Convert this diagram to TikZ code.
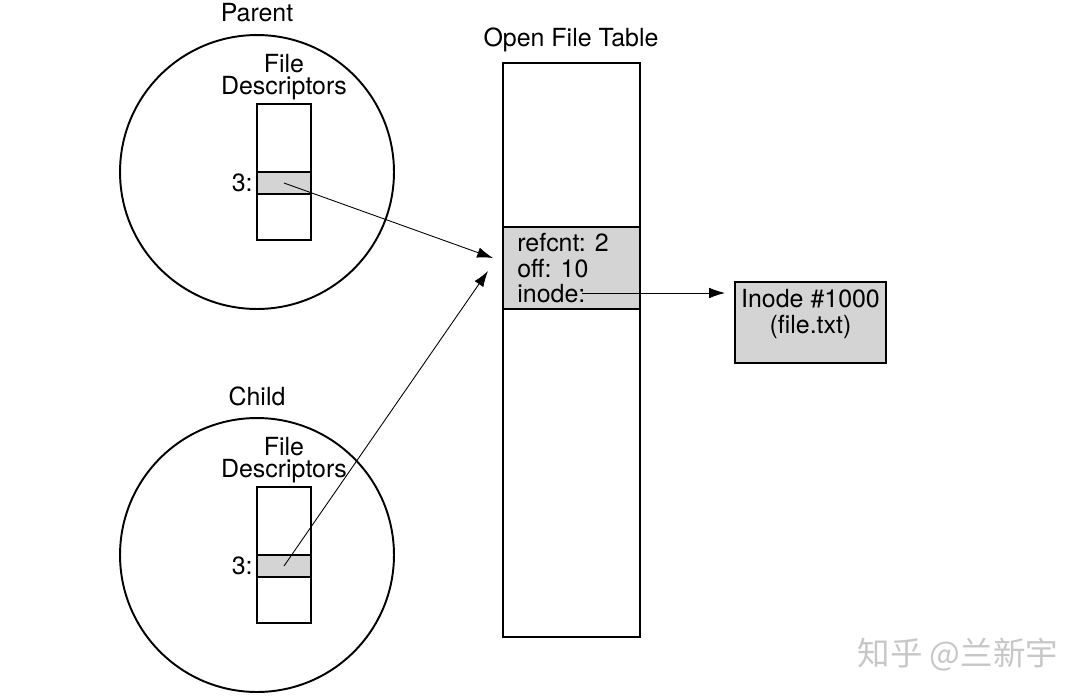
\documentclass[tikz,border=0pt]{standalone}
\usepackage{fontspec}
\setmainfont{TeX Gyre Heros}
\newfontfamily\cjk{Noto Sans CJK SC}
\usetikzlibrary{arrows.meta}

\tikzset{
  proc/.style={draw, line width=1.1pt},
  fdbox/.style={draw, line width=0.6pt, minimum width=1.08cm, minimum height=2.72cm, inner sep=0pt},
  slot/.style={draw, fill=black!17, line width=0.6pt, minimum width=1.08cm, minimum height=0.44cm, inner sep=0pt},
  table/.style={draw, line width=1.1pt, minimum width=2.74cm, minimum height=11.48cm, inner sep=0pt},
  entry/.style={draw, fill=black!17, line width=1.1pt, minimum width=2.74cm, minimum height=1.64cm, inner sep=0pt},
  label/.style={font=\fontsize{14.2}{15}\selectfont, inner sep=0pt},
  ptr/.style={line width=0.5pt, -{Latex[length=9pt, width=6pt]}},
}

\begin{document}
\begin{tikzpicture}[x=0.02cm, y=-0.02cm]
  \useasboundingbox (0,0) rectangle (1088,697);

  % parent
  \node[label] (ptitle) at (257,13) {Parent};
  \draw[proc] (257,172) circle[radius=2.74cm];
  \node[label, align=center, font=\fontsize{14.2}{12.5}\selectfont] (pfdl) at (284,77) {File\\Descriptors};
  \node[fdbox] (pfd) at (284,172) {};
  \node[slot] (pslot) at (284,183) {};
  \node[label, anchor=east] (p3) at (253,183) {3:};

  % child
  \node[label] (ctitle) at (257,396) {Child};
  \draw[proc] (257,555) circle[radius=2.74cm];
  \node[label, align=center, font=\fontsize{14.2}{12.5}\selectfont] (cfdl) at (284,460) {File\\Descriptors};
  \node[fdbox] (cfd) at (284,555) {};
  \node[slot] (cslot) at (284,566) {};
  \node[label, anchor=east] (c3) at (253,566) {3:};

  % open file table
  \node[label] (otitle) at (571,40) {Open File Table};
  \node[table] (oft) at (571.5,350) {};
  \node[entry] (entry) at (571.5,268) {};
  \node[label, align=left, anchor=north west, font=\fontsize{14.2}{14.5}\selectfont] (fields) at (517,233) {refcnt: 2\\off: 10\\inode:};

  % inode
  \node[draw, fill=black!17, line width=1.1pt, minimum width=3.02cm, minimum height=1.62cm, inner sep=0pt] (inode) at (810.5,322.5) {};
  \node[label, align=center, font=\fontsize{14.2}{15}\selectfont] (inodel) at (810.5,314) {Inode \#1000\\(file.txt)};

  \coordinate (tip1) at (493,258);
  \coordinate (tip2) at (488,271);
  \coordinate (tip3) at (725,293);
  \coordinate (istart) at (582,293);

  \draw[ptr] (pslot.center) -- (tip1);
  \draw[ptr] (cslot.center) -- (tip2);
  \draw[ptr] (istart) -- (tip3);

  \node[text=black!22, font=\cjk\fontsize{18.5}{20}\selectfont] (mark) at (958,655) {知乎 @兰新宇};
\end{tikzpicture}
\end{document}
